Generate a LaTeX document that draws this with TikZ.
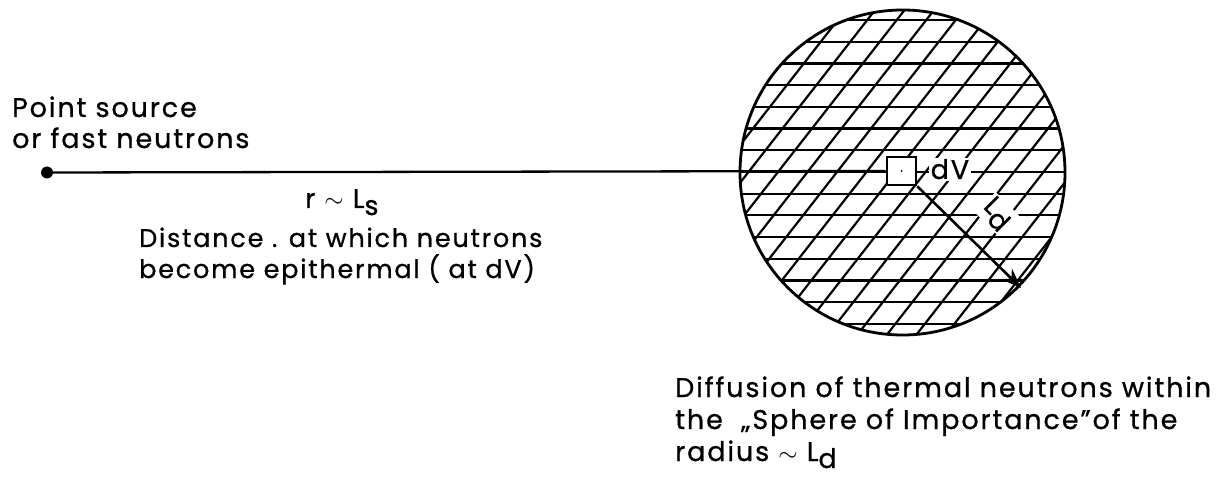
\documentclass[tikz,border=0pt]{standalone}
\usepackage{fontspec}
\setmainfont{Poppins}[LetterSpace=7,FakeBold=0.8]
\usetikzlibrary{arrows.meta}
\newcommand\lsub[1]{\raisebox{-7pt}{#1}}
\begin{document}
\begin{tikzpicture}[x=1pt,y=1pt,
  txt/.style={anchor=base west, inner sep=0pt, font=\fontsize{27}{32}\selectfont},
  smalltxt/.style={anchor=base west, inner sep=0pt, font=\fontsize{25.5}{30}\selectfont},
  hatch/.style={line width=2.2pt},
  thick line/.style={line width=2.3pt}]
\fill[white] (0,0) rectangle (1230,-478);
\path[use as bounding box] (0,0) rectangle (1230,-478);

% texts
\node[txt] (t1) at (12,-117) {Point source};
\node[txt] (t2) at (12,-148) {or fast neutrons};
\node[txt] (t3) at (305,-208) {r $\sim$ L\lsub{s}};
\node[smalltxt] (t4) at (139,-247) {Distance . at which neutrons};
\node[smalltxt] (t5) at (139,-278) {become epithermal ( at dV)};
\node[txt] (t6) at (675,-397) {Diffusion of thermal neutrons within};
\node[txt] (t7) at (675,-429) {the \ „Sphere of Importance"of the};
\node[txt] (t8) at (675,-461) {radius $\sim$ L\lsub{d}};

% sphere with hatching
\begin{scope}
  \clip (902.5,-172.5) circle (162.5);
  \foreach \k in {-8,...,8}
    \draw[hatch] (700,{-172+21.7*\k}) -- (1100,{-172+21.7*\k});
  \foreach \j in {-7,...,17}
    \draw[hatch] ({748.5+29.5*\j},-172) ++(232:240) -- ++(52:480);
\end{scope}
\node[draw, circle, line width=2.8pt, minimum size=325pt, inner sep=0pt] (sphere) at (902.5,-172.5) {};

% source and line
\node[circle, fill=black, minimum size=12pt, inner sep=0pt] (src) at (47,-172.5) {};
\node[draw, fill=white, line width=2.6pt, minimum width=29pt, minimum height=28pt, inner sep=0pt] (dv) at (901.5,-171) {};
\fill (dv.center) circle (1pt);
\draw[thick line] (src) -- (dv.west);

% dV label
\node[fill=white, inner sep=1.5pt, anchor=base west, font=\fontsize{27}{32}\selectfont] (dvl) at (929,-179) {dV};

% L_d label and arrow
\node[fill=white, inner sep=1.5pt, rotate=-45, font=\fontsize{27}{32}\selectfont] (ld) at (997,-214) {L\lsub{d}};
\coordinate (tip) at (1021,-288);
\draw[line width=2.6pt, -{Stealth[length=20pt,width=15pt]}] (dv.south east) -- (tip);
\end{tikzpicture}
\end{document}
